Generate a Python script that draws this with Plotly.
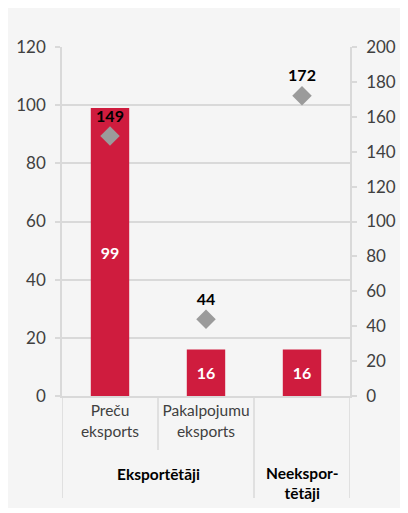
import plotly.graph_objects as go

# dati
kategorijas = ["Preču eksports", "Pakalpojumu eksports", "Neeksportētāji"]
kategoriju_teksti = ["Preču<br>eksports", "Pakalpojumu<br>eksports", ""]
grupas = ["Eksportētāji", "Neekspor-<br>tētāji"]
stabini = [99, 16, 16]
rombi = [149, 44, 172]

SARKANS = "#cf1c3e"
PELEKS = "#9b9b9b"
REZGIS = "#d9d9d9"
FONS = "#f5f5f5"
FONTS = "Lato, 'Open Sans', sans-serif"

fig = go.Figure()

fig.add_trace(
    go.Bar(
        x=kategorijas,
        y=stabini,
        width=0.4,
        marker=dict(color=SARKANS, line=dict(width=0)),
        text=stabini,
        textposition="inside",
        insidetextanchor="middle",
        textfont=dict(color="white", size=16, family=FONTS, weight="bold"),
        showlegend=False,
    )
)

fig.add_trace(
    go.Scatter(
        x=kategorijas,
        y=rombi,
        yaxis="y2",
        mode="markers+text",
        marker=dict(symbol="diamond", size=15, color=PELEKS),
        text=rombi,
        textposition="top center",
        textfont=dict(color="black", size=16, family=FONTS, weight="bold"),
        showlegend=False,
    )
)

# dalītājlīnijas zem ass
dalitaji = [(-0.5, -0.292), (0.5, -0.155), (1.5, -0.292), (2.5, -0.292)]
for xpos, ylejas in dalitaji:
    fig.add_shape(
        type="line", xref="x", yref="paper",
        x0=xpos, x1=xpos, y0=0, y1=ylejas,
        line=dict(color=REZGIS, width=1.5),
    )

fig.add_annotation(
    x=0.5, y=-0.2235, xref="x", yref="paper", text=grupas[0],
    showarrow=False, yanchor="middle",
    font=dict(size=15.5, color="black", family=FONTS, weight="bold"),
)
fig.add_annotation(
    x=2, y=-0.249, xref="x", yref="paper", text=grupas[1],
    showarrow=False, yanchor="middle",
    font=dict(size=15.5, color="black", family=FONTS, weight="bold"),
)

fig.update_layout(
    width=396,
    height=500,
    margin=dict(l=54, r=54, t=39, b=112),
    paper_bgcolor=FONS,
    plot_bgcolor=FONS,
    font=dict(family=FONTS, color="#404040", size=15),
    xaxis=dict(
        type="category",
        range=[-0.5, 2.5],
        tickvals=kategorijas,
        ticktext=kategoriju_teksti,
        showline=True,
        linecolor=REZGIS,
        linewidth=1.5,
        ticks="",
        showgrid=False,
        automargin=False,
        tickfont=dict(size=15.5, color="#404040"),
        fixedrange=True,
    ),
    yaxis=dict(
        range=[0, 120],
        dtick=20,
        showgrid=True,
        gridcolor=REZGIS,
        gridwidth=1.5,
        showline=True,
        linecolor=REZGIS,
        linewidth=1.5,
        ticks="outside",
        ticklen=5,
        tickcolor=REZGIS,
        tickwidth=1.5,
        ticklabelstandoff=6,
        zeroline=False,
        automargin=False,
        tickfont=dict(size=17, color="#404040"),
    ),
    yaxis2=dict(
        range=[0, 200],
        dtick=20,
        overlaying="y",
        side="right",
        showgrid=False,
        showline=True,
        linecolor=REZGIS,
        linewidth=1.5,
        ticks="outside",
        ticklen=5,
        tickcolor=REZGIS,
        tickwidth=1.5,
        ticklabelstandoff=6,
        zeroline=False,
        automargin=False,
        tickfont=dict(size=17, color="#404040"),
    ),
)

fig.write_html("out.html")
